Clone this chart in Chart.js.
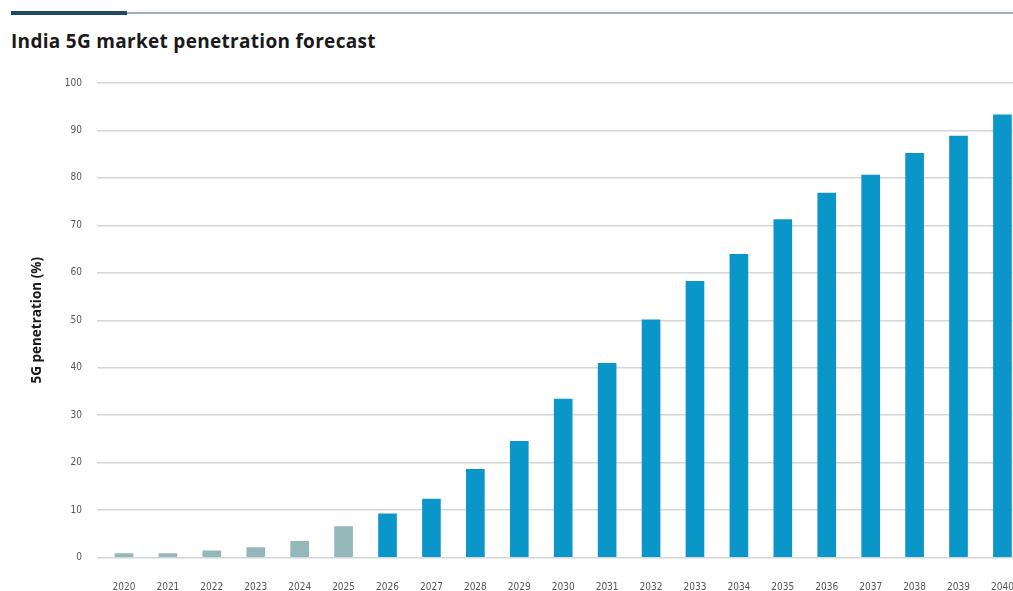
<!DOCTYPE html>
<html>
<head>
<meta charset="utf-8">
<script src="https://cdn.jsdelivr.net/npm/chart.js@4"></script>
<style>
  html, body { margin: 0; padding: 0; background: #fff; width: 1013px; height: 591px; overflow: hidden; position: relative; }
  #hdrThin { position: absolute; left: 126px; top: 12px; width: 887px; height: 2px; background: #a3acb1; }
  #hdrThick { position: absolute; left: 11px; top: 11px; width: 116px; height: 4px; background: #1d4a64; }
  #title { position: absolute; left: 11px; top: 29px; font-family: "Open Sans", "DejaVu Sans", sans-serif; font-weight: 700; font-size: 19px; color: #1a1a1a; letter-spacing: 0.3px; line-height: 25px; white-space: nowrap; }
  #wrap { position: absolute; left: 0; top: 0; width: 1030px; height: 591px; }
</style>
</head>
<body>
<div id="hdrThin"></div>
<div id="hdrThick"></div>
<div id="title">India 5G market penetration forecast</div>
<div id="wrap"><canvas id="c" width="1030" height="591"></canvas></div>
<script>
const years = ['2020','2021','2022','2023','2024','2025','2026','2027','2028','2029','2030','2031','2032','2033','2034','2035','2036','2037','2038','2039','2040'];
const penetration = [0.8, 0.8, 1.4, 2.1, 3.4, 6.5, 9.2, 12.3, 18.6, 24.5, 33.4, 40.9, 50.1, 58.2, 63.9, 71.2, 76.8, 80.6, 85.2, 88.8, 93.3];
const yTicks = [0, 10, 20, 30, 40, 50, 60, 70, 80, 90, 100];
const firstForecastYear = '2026';

const GRAY = '#94b8ba';
const BLUE = '#0a96c9';
const tickFont = { family: "'DejaVu Sans Condensed', 'Liberation Sans Narrow', 'Roboto', sans-serif", size: 10 };

new Chart(document.getElementById('c'), {
  type: 'bar',
  data: {
    labels: years,
    datasets: [{
      data: penetration,
      backgroundColor: years.map(y => y < firstForecastYear ? GRAY : BLUE),
      barThickness: 18,
      borderWidth: 0
    }]
  },
  options: {
    responsive: false,
    animation: false,
    devicePixelRatio: 1,
    layout: { padding: { top: 83, left: 0, right: 5, bottom: 0 } },
    plugins: { legend: { display: false }, tooltip: { enabled: false }, title: { display: false } },
    scales: {
      x: {
        offset: true,
        grid: { display: false },
        border: { display: false },
        ticks: { color: '#555', font: tickFont, padding: 16, maxRotation: 0, autoSkip: false },
        afterFit: s => { s.height = 33.5; }
      },
      y: {
        min: 0, max: 100,
        afterBuildTicks: s => { s.ticks = yTicks.map(v => ({ value: v })); },
        grid: { color: '#d4d6d8', lineWidth: 1.5, drawTicks: true, tickLength: 5, tickColor: '#d4d6d8' },
        border: { display: false },
        ticks: { color: '#555', font: tickFont, padding: 15 },
        title: { display: true, text: '5G penetration (%)', color: '#1a1a1a', font: { family: "'Open Sans', 'DejaVu Sans', sans-serif", size: 13.5, weight: '700' }, padding: { top: 29, bottom: 0 } },
        afterFit: s => { s.width = 102; }
      }
    }
  }
});
</script>
</body>
</html>
